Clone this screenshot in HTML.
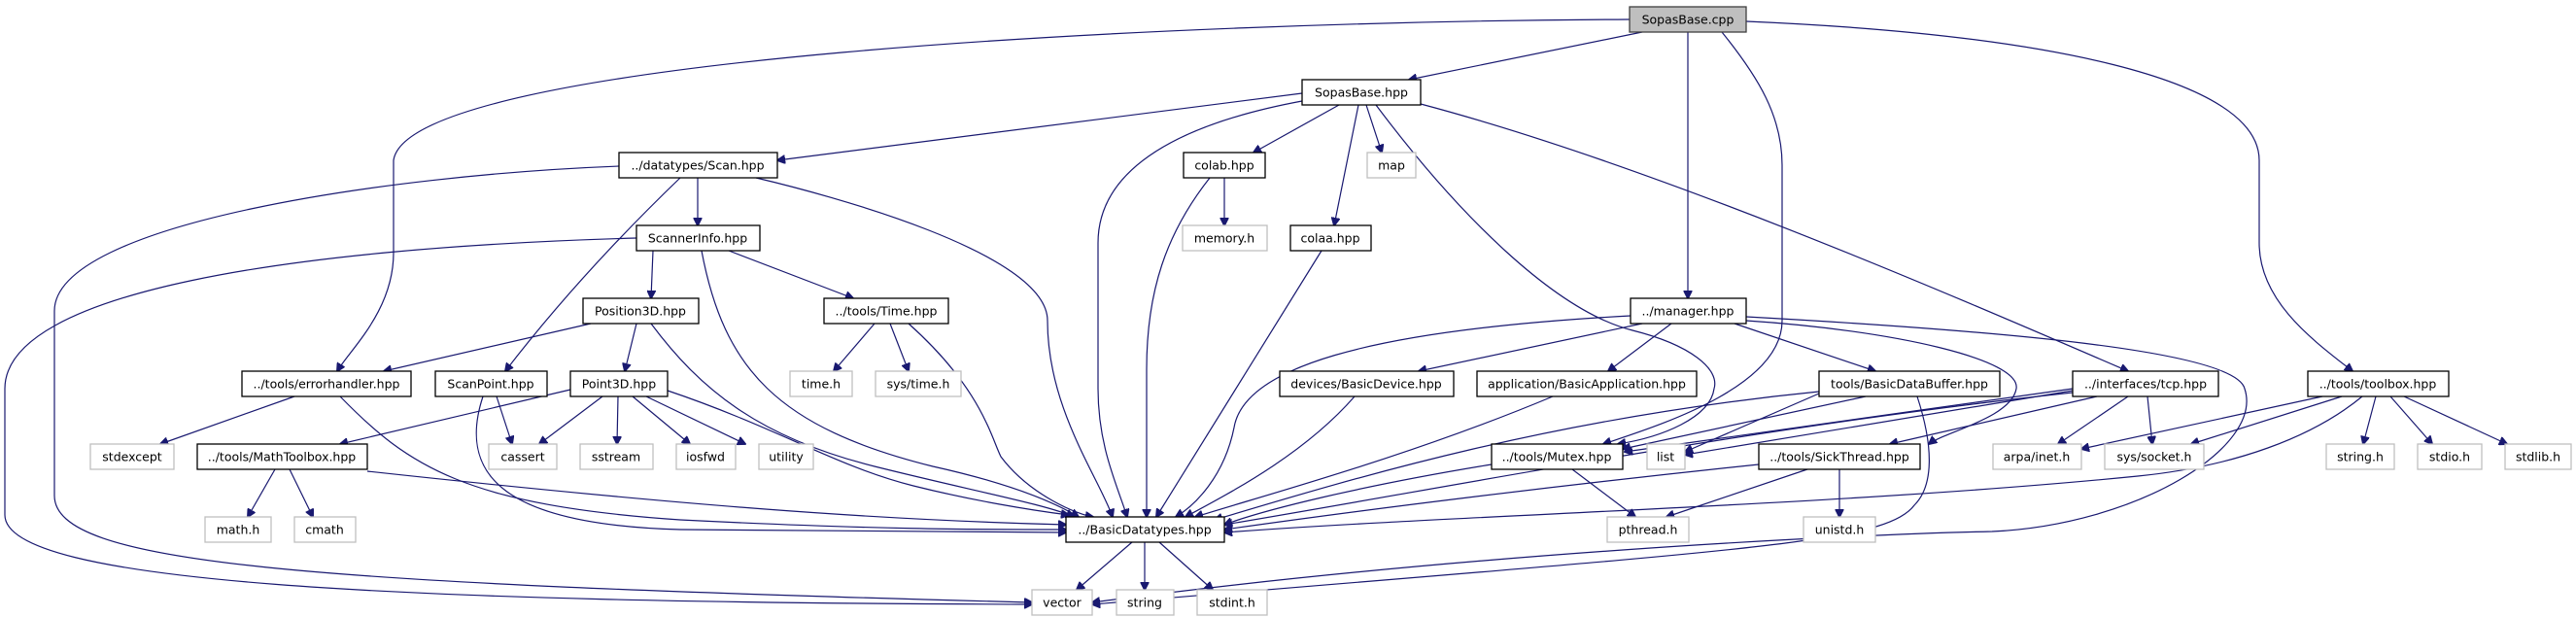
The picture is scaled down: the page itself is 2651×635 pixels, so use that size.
<!DOCTYPE html>
<html><head><meta charset="utf-8"><style>
html,body{margin:0;padding:0;background:#fff;}
svg{display:block}
text{font-family:"DejaVu Sans","Liberation Sans",sans-serif;font-size:12.5px;fill:#000;text-anchor:middle;dominant-baseline:central}
.n rect{fill:#fff;stroke:#000;stroke-width:1.3}
.g rect{fill:#fff;stroke:#bfbfbf;stroke-width:1.3}
path{fill:none;stroke:#191970;stroke-width:1.2}
</style></head><body>
<svg width="2651" height="635" viewBox="0 0 2651 635" xmlns="http://www.w3.org/2000/svg">
<defs><marker id="a" viewBox="0 0 10 10" refX="9" refY="5" markerWidth="9" markerHeight="9" orient="auto" markerUnits="userSpaceOnUse"><path d="M0,0 L10,5 L0,10 z" style="fill:#191970;stroke:#191970"/></marker></defs>
<g marker-end="url(#a)">
<path d="M1677,20 C1200,22 420,60 405,165 L405,260 C405,320 360,360 347,382"/>
<path d="M1797,22 C2100,35 2325,80 2325,165 L2325,250 C2325,310 2380,350 2421,382"/>
<path d="M1772,33 C1810,80 1834,120 1834,170 L1834,330 C1834,400 1700,440 1650,457"/>
<path d="M1690,33 L1450,82"/>
<path d="M1737,33 L1737,307"/>
<path d="M1340,96 L800,165"/>
<path d="M1340,104 C1200,130 1130,180 1130,250 L1130,400 C1130,460 1150,500 1160,532"/>
<path d="M1378,108 L1290,157"/>
<path d="M1406,108 L1422,157"/>
<path d="M1398,108 L1373,232"/>
<path d="M1416,108 C1500,220 1600,320 1680,340 C1740,355 1770,380 1764,400 C1760,430 1710,450 1665,457"/>
<path d="M1462,107 C1700,170 2000,300 2190,382"/>
<path d="M718,183 L718,232"/>
<path d="M700,183 C620,260 560,330 520,382"/>
<path d="M778,183 C850,200 1078,260 1078,330 C1078,420 1130,490 1145,532"/>
<path d="M637,171 C400,180 56,230 56,320 L56,510 C56,580 300,600 1062,620"/>
<path d="M672,258 L670,307"/>
<path d="M750,258 L878,307"/>
<path d="M722,258 C745,380 800,440 960,480 C1050,500 1090,520 1110,532"/>
<path d="M655,245 C300,255 5,300 5,400 L5,530 C5,600 400,620 1062,622"/>
<path d="M608,333 L395,382"/>
<path d="M655,333 L643,382"/>
<path d="M670,333 C720,400 780,450 900,480 C1000,505 1080,520 1105,532"/>
<path d="M900,333 L858,382"/>
<path d="M916,333 L935,382"/>
<path d="M935,333 C1010,400 1020,450 1030,470 C1060,510 1110,530 1125,532"/>
<path d="M303,408 L165,457"/>
<path d="M350,408 C420,480 480,520 700,535 C900,545 1000,545 1097,545"/>
<path d="M511,408 L527,457"/>
<path d="M497,408 C470,490 520,540 700,545 L1097,548"/>
<path d="M587,401 L350,457"/>
<path d="M620,408 L555,457"/>
<path d="M636,408 L635,457"/>
<path d="M651,408 L710,457"/>
<path d="M665,408 L767,457"/>
<path d="M687,402 C800,440 860,480 940,500 C1000,515 1060,525 1100,530"/>
<path d="M283,483 L255,532"/>
<path d="M298,483 L322,532"/>
<path d="M378,485 C700,520 900,535 1097,540"/>
<path d="M1260,183 L1260,232"/>
<path d="M1245,183 C1200,240 1180,300 1180,380 L1180,532"/>
<path d="M1360,258 L1190,532"/>
<path d="M1678,325 C1400,340 1280,380 1270,440 C1260,490 1230,520 1210,532"/>
<path d="M1690,333 L1460,382"/>
<path d="M1720,333 L1655,382"/>
<path d="M1785,333 L1930,382"/>
<path d="M1797,330 C1950,340 2080,370 2075,400 C2070,430 2000,445 1985,457"/>
<path d="M1797,326 C2050,340 2300,360 2310,400 C2330,460 2200,540 2050,547 C1900,550 1500,570 1124,620"/>
<path d="M1394,408 C1340,470 1260,510 1220,532"/>
<path d="M1598,408 C1450,470 1300,510 1230,532"/>
<path d="M1920,408 L1670,462"/>
<path d="M1872,405 L1734,465"/>
<path d="M1872,403 C1600,430 1400,490 1250,535"/>
<path d="M1973,408 C1990,460 1990,500 1970,520 C1940,560 1800,565 1124,622"/>
<path d="M2133,400 L1672,465"/>
<path d="M2133,402 L1734,468"/>
<path d="M2158,408 L1945,457"/>
<path d="M2190,408 L2118,457"/>
<path d="M2210,408 L2215,457"/>
<path d="M2133,404 C1800,440 1500,500 1260,540"/>
<path d="M1860,483 L1715,532"/>
<path d="M1893,483 L1893,532"/>
<path d="M1810,478 C1600,500 1400,525 1260,545"/>
<path d="M2390,408 L2142,462"/>
<path d="M2410,408 L2255,457"/>
<path d="M2445,408 L2432,457"/>
<path d="M2460,408 L2503,457"/>
<path d="M2474,408 L2580,457"/>
<path d="M2431,408 C2380,450 2300,480 2200,490 C1900,520 1500,530 1260,548"/>
<path d="M1618,483 L1683,532"/>
<path d="M1535,478 C1400,500 1300,525 1260,540"/>
<path d="M1165,558 L1108,607"/>
<path d="M1178,558 L1178,607"/>
<path d="M1193,558 L1248,607"/>
</g>
<g class="n">
<rect x="1677" y="7" width="120" height="26" style="fill:#bfbfbf;stroke:#404040"/><text x="1737" y="20">SopasBase.cpp</text>
<rect x="1340" y="82" width="122" height="26"/><text x="1401" y="95">SopasBase.hpp</text>
<rect x="637" y="157" width="163" height="26"/><text x="718" y="170">../datatypes/Scan.hpp</text>
<rect x="1218" y="157" width="84" height="26"/><text x="1260" y="170">colab.hpp</text>
<rect x="655" y="232" width="127" height="26"/><text x="718" y="245">ScannerInfo.hpp</text>
<rect x="1328" y="232" width="83" height="26"/><text x="1369" y="245">colaa.hpp</text>
<rect x="600" y="307" width="119" height="26"/><text x="659" y="320">Position3D.hpp</text>
<rect x="848" y="307" width="128" height="26"/><text x="912" y="320">../tools/Time.hpp</text>
<rect x="1678" y="307" width="119" height="26"/><text x="1737" y="320">../manager.hpp</text>
<rect x="249" y="382" width="174" height="26"/><text x="336" y="395">../tools/errorhandler.hpp</text>
<rect x="448" y="382" width="115" height="26"/><text x="505" y="395">ScanPoint.hpp</text>
<rect x="587" y="382" width="100" height="26"/><text x="637" y="395">Point3D.hpp</text>
<rect x="1317" y="382" width="179" height="26"/><text x="1406" y="395">devices/BasicDevice.hpp</text>
<rect x="1520" y="382" width="226" height="26"/><text x="1633" y="395">application/BasicApplication.hpp</text>
<rect x="1872" y="382" width="186" height="26"/><text x="1965" y="395">tools/BasicDataBuffer.hpp</text>
<rect x="2133" y="382" width="150" height="26"/><text x="2208" y="395">../interfaces/tcp.hpp</text>
<rect x="2375" y="382" width="145" height="26"/><text x="2447" y="395">../tools/toolbox.hpp</text>
<rect x="203" y="457" width="175" height="26"/><text x="290" y="470">../tools/MathToolbox.hpp</text>
<rect x="1535" y="457" width="135" height="26"/><text x="1602" y="470">../tools/Mutex.hpp</text>
<rect x="1810" y="457" width="166" height="26"/><text x="1893" y="470">../tools/SickThread.hpp</text>
<rect x="1097" y="532" width="163" height="26"/><text x="1178" y="545">../BasicDatatypes.hpp</text>
</g>
<g class="g">
<rect x="1407" y="157" width="50" height="26"/><text x="1432" y="170">map</text>
<rect x="1217" y="232" width="87" height="26"/><text x="1260" y="245">memory.h</text>
<rect x="813" y="382" width="64" height="26"/><text x="845" y="395">time.h</text>
<rect x="901" y="382" width="88" height="26"/><text x="945" y="395">sys/time.h</text>
<rect x="93" y="457" width="86" height="26"/><text x="136" y="470">stdexcept</text>
<rect x="503" y="457" width="70" height="26"/><text x="538" y="470">cassert</text>
<rect x="597" y="457" width="75" height="26"/><text x="634" y="470">sstream</text>
<rect x="696" y="457" width="61" height="26"/><text x="726" y="470">iosfwd</text>
<rect x="781" y="457" width="56" height="26"/><text x="809" y="470">utility</text>
<rect x="1695" y="457" width="39" height="26"/><text x="1714" y="470">list</text>
<rect x="2051" y="457" width="91" height="26"/><text x="2096" y="470">arpa/inet.h</text>
<rect x="2166" y="457" width="102" height="26"/><text x="2217" y="470">sys/socket.h</text>
<rect x="2394" y="457" width="70" height="26"/><text x="2429" y="470">string.h</text>
<rect x="2488" y="457" width="66" height="26"/><text x="2521" y="470">stdio.h</text>
<rect x="2578" y="457" width="68" height="26"/><text x="2612" y="470">stdlib.h</text>
<rect x="211" y="532" width="68" height="26"/><text x="245" y="545">math.h</text>
<rect x="303" y="532" width="63" height="26"/><text x="334" y="545">cmath</text>
<rect x="1654" y="532" width="84" height="26"/><text x="1696" y="545">pthread.h</text>
<rect x="1856" y="532" width="74" height="26"/><text x="1893" y="545">unistd.h</text>
<rect x="1062" y="607" width="62" height="26"/><text x="1093" y="620">vector</text>
<rect x="1149" y="607" width="59" height="26"/><text x="1178" y="620">string</text>
<rect x="1232" y="607" width="72" height="26"/><text x="1268" y="620">stdint.h</text>
</g>
</svg>
</body></html>
